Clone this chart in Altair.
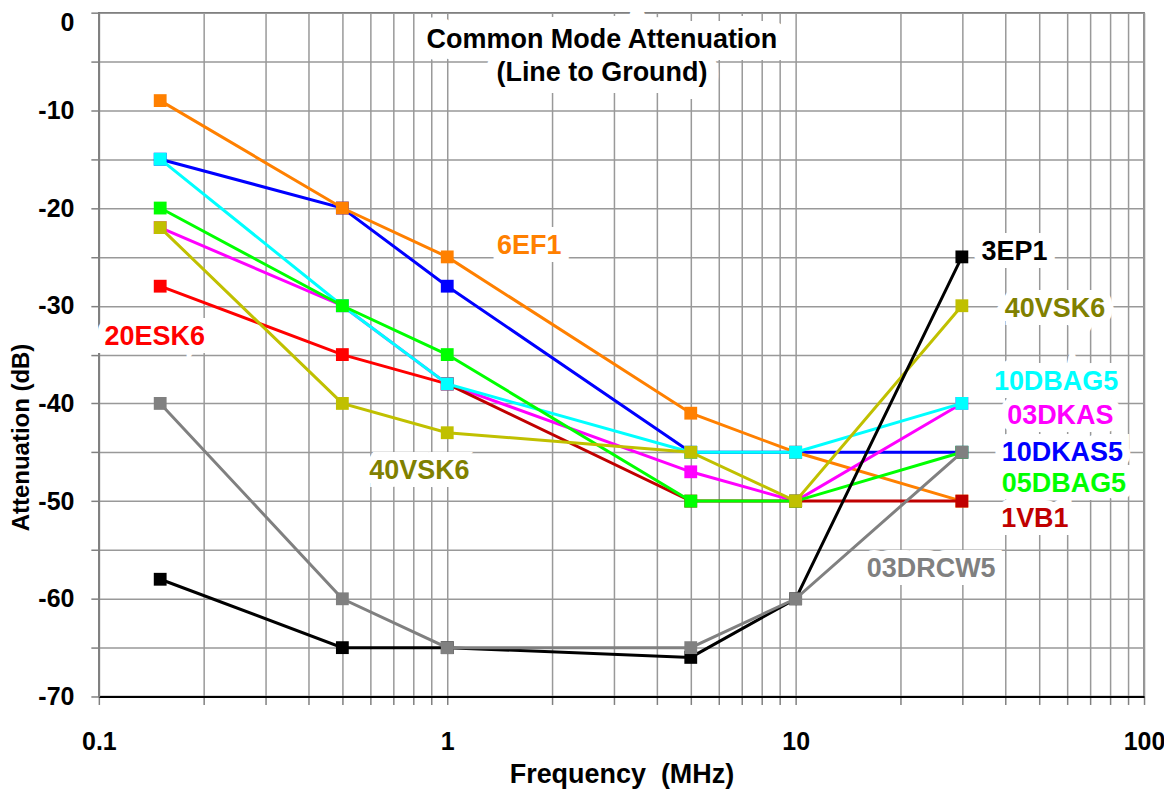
import altair as alt
import pandas as pd

# ---- data ----
freq = [0.15, 0.5, 1, 5, 10, 30]
s_10DKAS5 = [-15, -20, -28, -45, -45, -45]
s_6EF1 = [-9, -20, -25, -41, -45, -50]
freq_20ESK6 = [0.15, 0.5, 1]
s_20ESK6 = [-28, -35, -38]
s_03DKAS = [-22, -30, -38, -47, -50, -40]
freq_1VB1 = [1, 5, 10, 30]
s_1VB1 = [-38, -50, -50, -50]
s_10DBAG5 = [-15, -30, -38, -45, -45, -40]
s_05DBAG5 = [-20, -30, -35, -50, -50, -45]
s_40VSK6 = [-22, -40, -43, -45, -50, -30]
s_3EP1 = [-58, -65, -65, -66, -60, -25]
s_03DRCW5 = [-40, -60, -65, -65, -60, -45]

# drawing order (bottom -> top)
series = [
    ("10DKAS5", freq, s_10DKAS5, "#0000FF"),
    ("6EF1", freq, s_6EF1, "#FF8000"),
    ("20ESK6", freq_20ESK6, s_20ESK6, "#FF0000"),
    ("03DKAS", freq, s_03DKAS, "#FF00FF"),
    ("1VB1", freq_1VB1, s_1VB1, "#C00000"),
    ("10DBAG5", freq, s_10DBAG5, "#00FFFF"),
    ("05DBAG5", freq, s_05DBAG5, "#00FF00"),
    ("40VSK6", freq, s_40VSK6, "#C0C000"),
    ("3EP1", freq, s_3EP1, "#000000"),
    ("03DRCW5", freq, s_03DRCW5, "#808080"),
]

# series labels
label_text = ["6EF1", "20ESK6", "40VSK6", "3EP1", "40VSK6", "10DBAG5",
              "03DKAS", "10DKAS5", "05DBAG5", "1VB1", "03DRCW5"]
label_x = [1.72, 0.1447, 0.832, 42.5, 55.5, 55.9, 57.5, 58.3, 58.9, 48.6, 24.5]
label_y = [-23.9, -33.2, -46.9, -24.5, -30.3, -37.8, -41.3, -45.1, -48.2, -51.8, -56.9]
label_color = ["#FF8000", "#FF0000", "#808000", "#000000", "#808000", "#00FFFF",
               "#FF00FF", "#0000FF", "#00FF00", "#C00000", "#808080"]

title_lines = ["Common Mode Attenuation", "(Line to Ground)"]
title_x = [2.78, 2.78]
title_y = [-2.8, -6.2]

x_ticks = [0.1, 0.2, 0.3, 0.4, 0.5, 0.6, 0.7, 0.8, 0.9,
           1, 2, 3, 4, 5, 6, 7, 8, 9,
           10, 20, 30, 40, 50, 60, 70, 80, 90, 100]
x_labeled = [0.1, 1, 10, 100]
y_ticks = list(range(-70, 1, 5))

FONT = "Liberation Sans"
LABEL_SIZE = 27

xscale = alt.Scale(type="log", domain=[0.1, 100], nice=False)
yscale = alt.Scale(domain=[-70, 0], nice=False, zero=False)

xaxis = alt.Axis(
    values=x_ticks,
    labelExpr="indexof(" + str(x_labeled) + ", datum.value) >= 0 ? datum.label : ''",
    format="~g",
    title="Frequency \u00a0(MHz)",
    titleFontSize=27, titleFont=FONT, titleFontWeight="bold", titleColor="black",
    titleBaseline="alphabetic", titleY=86,
    labelFontSize=25, labelFont=FONT, labelFontWeight="bold", labelColor="black",
    labelPadding=25, labelFlush=False, labelOverlap=False,
    tickSize=8, domainColor="black", domainWidth=2,
)
yaxis = alt.Axis(
    values=y_ticks,
    labelExpr="datum.value % 10 == 0 ? '' + datum.value : ''",
    title="Attenuation (dB)",
    titleFontSize=24, titleFont=FONT, titleFontWeight="bold", titleColor="black",
    titleX=-77, titleY=425, titleBaseline="middle", titleAngle=270,
    labelFontSize=25, labelFont=FONT, labelFontWeight="bold", labelColor="black",
    labelPadding=17, labelOverlap=False,
    labelOffset={"condition": {"test": "datum.value == 0", "value": 10}, "value": 0},
    tickSize=8, domainColor="#808080", domainWidth=1.5,
)

labels_df = pd.DataFrame({"x": label_x, "y": label_y, "text": label_text, "color": label_color})
title_df = pd.DataFrame({"x": title_x, "y": title_y, "text": title_lines})

base_enc = dict(
    x=alt.X("x:Q", scale=xscale, axis=xaxis),
    y=alt.Y("y:Q", scale=yscale, axis=yaxis),
)

# white halos behind the annotation texts
halo = alt.Chart(labels_df).mark_text(
    font=FONT, fontWeight="bold", fontSize=LABEL_SIZE, fill="white",
    stroke="white", strokeWidth=16, strokeJoin="miter", baseline="middle", align="center",
).encode(text="text:N", **base_enc)
title_halo = alt.Chart(title_df).mark_text(
    font=FONT, fontWeight="bold", fontSize=LABEL_SIZE, fill="white",
    stroke="white", strokeWidth=24, strokeJoin="miter", baseline="middle", align="center",
).encode(text="text:N", **base_enc)

layers = [halo, title_halo]
for name, fx, fy, col in series:
    df = pd.DataFrame({"x": fx, "y": fy, "series": name})
    layers.append(
        alt.Chart(df).mark_line(
            color=col, strokeWidth=3,
            point=alt.OverlayMarkDef(shape="square", size=165, filled=True, color=col, opacity=1),
        ).encode(**base_enc)
    )

texts = alt.Chart(labels_df).mark_text(
    font=FONT, fontWeight="bold", fontSize=LABEL_SIZE, baseline="middle", align="center",
).encode(text="text:N", color=alt.Color("color:N", scale=None), **base_enc)
title_text = alt.Chart(title_df).mark_text(
    font=FONT, fontWeight="bold", fontSize=LABEL_SIZE, baseline="middle", align="center", color="black",
).encode(text="text:N", **base_enc)
layers += [texts, title_text]

chart = alt.layer(*layers).properties(
    width=1047, height=685,
    autosize=alt.AutoSizeParams(type="none"),
    padding={"left": 91, "top": 4, "right": 20, "bottom": 94},
    background="white",
).configure_axis(
    gridColor="#999999", gridWidth=1.5, gridOpacity=1,
    tickColor="#808080", tickWidth=1.5,
).configure_view(
    stroke="#666666", strokeWidth=1.5,
)

chart.save("out.html", embed_options={"renderer": "svg", "actions": False})
